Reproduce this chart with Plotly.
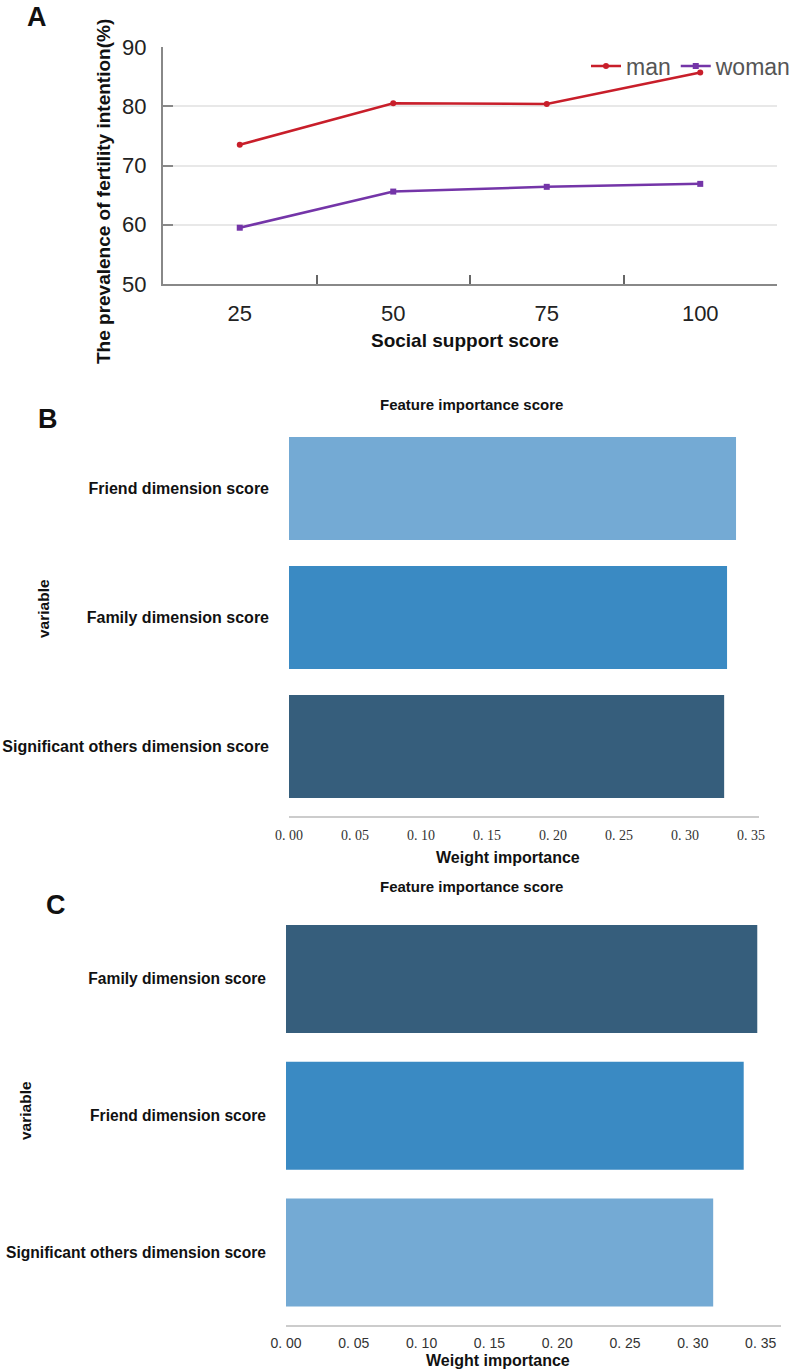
import plotly.graph_objects as go

# ---------------- data ----------------
score_levels = ["25", "50", "75", "100"]
man_values = [73.5, 80.5, 80.4, 85.7]
woman_values = [59.5, 65.6, 66.4, 66.9]

b_features = ["Friend dimension score", "Family dimension score", "Significant others dimension score"]
b_weights = [0.3386, 0.3318, 0.3296]

c_features = ["Family dimension score", "Friend dimension score", "Significant others dimension score"]
c_weights = [0.3475, 0.3375, 0.3150]

weight_ticks = [0.00, 0.05, 0.10, 0.15, 0.20, 0.25, 0.30, 0.35]
weight_ticktext = ["0. 00", "0. 05", "0. 10", "0. 15", "0. 20", "0. 25", "0. 30", "0. 35"]

# ---------------- style ----------------
W, H = 792, 1372
LIGHT = "#74AAD4"
MID = "#3A8AC3"
DARK = "#365E7C"
b_colors = [LIGHT, MID, DARK]
c_colors = [DARK, MID, LIGHT]
SANS = "Liberation Sans, Arial, sans-serif"
SERIF = "Liberation Serif, Times New Roman, serif"


def px(x):
    return x / W


def py(y):
    return 1 - y / H


fig = go.Figure()

# Panel A lines
fig.add_trace(go.Scatter(
    x=score_levels, y=man_values, name="man", mode="lines+markers",
    line=dict(color="#C81E2A", width=2.5),
    marker=dict(symbol="circle", size=6, color="#C81E2A"),
    xaxis="x", yaxis="y"))
fig.add_trace(go.Scatter(
    x=score_levels, y=woman_values, name="woman", mode="lines+markers",
    line=dict(color="#7435A8", width=2.5),
    marker=dict(symbol="square", size=6, color="#7435A8"),
    xaxis="x", yaxis="y"))

# Panel B bars
fig.add_trace(go.Bar(
    x=b_weights, y=b_features, orientation="h", marker=dict(color=b_colors, line=dict(width=0)),
    width=0.8, showlegend=False, xaxis="x2", yaxis="y2"))

# Panel C bars
fig.add_trace(go.Bar(
    x=c_weights, y=c_features, orientation="h", marker=dict(color=c_colors, line=dict(width=0)),
    width=0.79, showlegend=False, xaxis="x3", yaxis="y3"))

fig.update_layout(
    width=W, height=H,
    margin=dict(l=0, r=0, t=0, b=0, autoexpand=False),
    paper_bgcolor="white", plot_bgcolor="white",
    font=dict(family=SANS, color="#222"),
    legend=dict(orientation="h", x=px(586), y=py(66), xanchor="left", yanchor="middle",
                font=dict(size=23, color="#555", family=SANS), bgcolor="rgba(0,0,0,0)",
                itemwidth=30, tracegroupgap=0),
    # Panel A axes
    xaxis=dict(domain=[px(163), px(777)], type="category", range=[-0.5, 3.5],
               tickson="boundaries", ticks="inside", ticklen=9, tickcolor="#666", tickwidth=1.5,
               showline=True, linecolor="#888", linewidth=2, showgrid=False, zeroline=False,
               tickfont=dict(size=22, color="#222"), ticklabelstandoff=9, anchor="y"),
    yaxis=dict(domain=[py(284), py(47)], range=[50, 90], dtick=10,
               ticks="inside", ticklen=10, tickcolor="#888", tickwidth=1.5,
               showline=True, linecolor="#888", linewidth=2,
               showgrid=True, gridcolor="#E8E8E8", gridwidth=1.5, zeroline=False,
               tickfont=dict(size=22, color="#222"), ticklabelstandoff=10, anchor="x"),
    # Panel B axes
    xaxis2=dict(domain=[px(289), px(759)], range=[0, 0.356], tickvals=weight_ticks,
                ticktext=weight_ticktext, ticks="", showline=True, linecolor="#CCCCCC", linewidth=2,
                showgrid=False, zeroline=False, tickfont=dict(size=14, color="#333", family=SERIF),
                ticklabelstandoff=5, anchor="y2"),
    yaxis2=dict(domain=[py(816), py(424)], range=[2.539, -0.5], type="category",
                showline=False, showgrid=False, ticks="", zeroline=False,
                tickfont=dict(size=16, color="#111", family=SANS, weight="bold"),
                ticklabelstandoff=19, anchor="x2"),
    # Panel C axes
    xaxis3=dict(domain=[px(286), px(781)], range=[0, 0.365], tickvals=weight_ticks,
                ticktext=weight_ticktext, ticks="", showline=True, linecolor="#CCCCCC", linewidth=2,
                showgrid=False, zeroline=False, tickfont=dict(size=14, color="#333", family=SANS),
                ticklabelstandoff=5, anchor="y3"),
    yaxis3=dict(domain=[py(1324.5), py(910.6)], range=[2.527, -0.5], type="category",
                showline=False, showgrid=False, ticks="", zeroline=False,
                tickfont=dict(size=15.6, color="#111", family=SANS, weight="bold"),
                ticklabelstandoff=19, anchor="x3"),
    bargap=0.2,
)


def ann(text, x, y, size, bold=True, angle=0, xanchor="center", family=SANS, color="#111"):
    fig.add_annotation(text=f"<b>{text}</b>" if bold else text, x=px(x), y=py(y),
                       xref="paper", yref="paper", showarrow=False, textangle=angle,
                       xanchor=xanchor, yanchor="middle",
                       font=dict(size=size, family=family, color=color))


# Panel letters
ann("A", 37, 17, 27)
ann("B", 48, 419, 27)
ann("C", 56, 905, 27)

# Panel A titles
ann("The prevalence of fertility intention(%)", 103, 192, 19, angle=-90)
ann("Social support score", 465, 341, 19)

# Panel B titles
ann("Feature importance score", 471, 405, 15)
ann("variable", 43, 609, 15.5, angle=-90)
ann("Weight importance", 508, 857, 16)

# Panel C titles
ann("Feature importance score", 471, 887, 15)
ann("variable", 25, 1111, 15.5, angle=-90)
ann("Weight importance", 498, 1360, 16)

fig.write_html("out.html")
